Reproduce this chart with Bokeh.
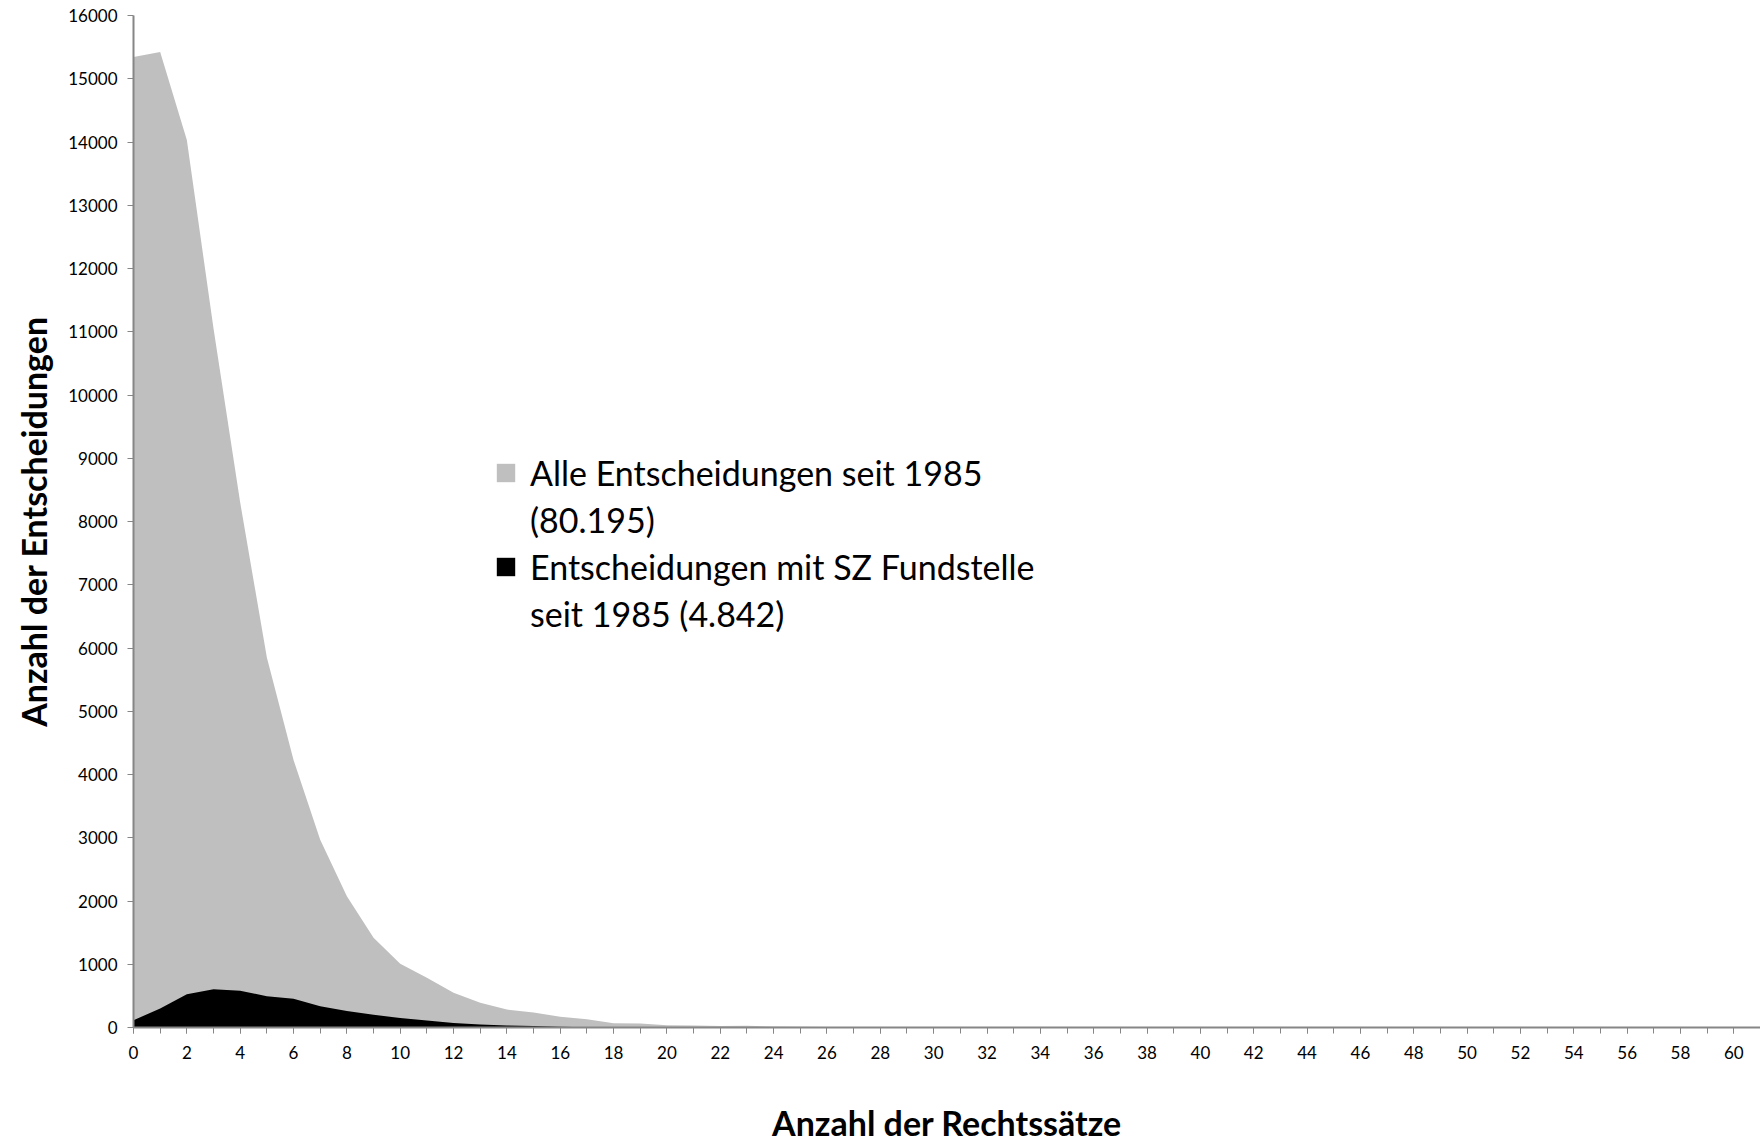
from bokeh.plotting import figure
from bokeh.models import Range1d, SingleIntervalTicker, Legend, LegendItem, ColumnDataSource
from bokeh.embed import file_html
from bokeh.resources import INLINE

# Number of legal principles (Rechtssätze) per decision
rechtssaetze = list(range(0, 61))

# All decisions since 1985
alle = [15345, 15423, 14033, 11050, 8300, 5850, 4230, 2970, 2075, 1417,
        1007, 787, 551, 393, 283, 236, 168, 132, 66, 63,
        37, 30, 25, 28, 15, 10, 8, 6, 5, 4,
        3, 3, 2, 2, 2, 1, 1, 1, 1, 1,
        1, 0, 0, 0, 0, 0, 0, 0, 0, 0,
        0, 0, 0, 0, 0, 0, 0, 0, 0, 0, 0]

# Decisions with SZ citation since 1985
sz = [115, 300, 525, 605, 582, 495, 455, 335, 262, 200,
      150, 110, 72, 48, 31, 24, 10, 5, 3, 2,
      1, 1, 0, 0, 0, 0, 0, 0, 0, 0,
      0, 0, 0, 0, 0, 0, 0, 0, 0, 0,
      0, 0, 0, 0, 0, 0, 0, 0, 0, 0,
      0, 0, 0, 0, 0, 0, 0, 0, 0, 0, 0]

label_alle = ["Alle Entscheidungen seit 1985", "(80.195)"]
label_sz = ["Entscheidungen mit SZ Fundstelle", "seit 1985 (4.842)"]

src = ColumnDataSource(dict(x=rechtssaetze, alle=alle, sz=sz, zero=[0] * len(rechtssaetze)))

FONT = "Lato"
AXIS_COLOR = "#868686"

p = figure(width=1760, height=1145, output_backend="svg", toolbar_location=None,
           x_range=Range1d(0, 61), y_range=Range1d(0, 16000),
           min_border_left=133, min_border_right=0, min_border_top=15, min_border_bottom=113)
p.outline_line_color = None
p.xgrid.visible = False
p.ygrid.visible = False

r_alle = p.varea(x="x", y1="zero", y2="alle", source=src, fill_color="#BFBFBF")
r_sz = p.varea(x="x", y1="zero", y2="sz", source=src, fill_color="#000000")
# invisible renderer used for the continuation lines of the legend labels
r_blank = p.varea(x="x", y1="zero", y2="zero", source=src, fill_alpha=0)

p.xaxis.ticker = SingleIntervalTicker(interval=2, num_minor_ticks=2)
p.xaxis.axis_label = "Anzahl der Rechtssätze"
p.yaxis.ticker = SingleIntervalTicker(interval=1000, num_minor_ticks=0)
p.yaxis.axis_label = "Anzahl der Entscheidungen"
for ax in (p.xaxis[0], p.yaxis[0]):
    ax.axis_line_color = AXIS_COLOR
    ax.axis_line_width = 2
    ax.major_tick_line_color = AXIS_COLOR
    ax.minor_tick_line_color = AXIS_COLOR
    ax.major_tick_line_width = 1
    ax.minor_tick_line_width = 1
    ax.major_tick_in = 0
    ax.minor_tick_in = 0
    ax.major_tick_out = 6
    ax.minor_tick_out = 6
    ax.major_label_text_font = FONT
    ax.major_label_text_font_size = "17px"
    ax.major_label_text_color = "#000000"
    ax.axis_label_text_font = FONT
    ax.axis_label_text_font_style = "bold"
    ax.axis_label_text_font_size = "34px"
    ax.axis_label_text_color = "#000000"
p.yaxis.major_label_standoff = 10
p.xaxis.major_label_standoff = 12
p.yaxis.axis_label_standoff = 11
p.xaxis.axis_label_standoff = 40

legend = Legend(items=[LegendItem(label=label_alle[0], renderers=[r_alle]),
                       LegendItem(label=label_alle[1], renderers=[r_blank]),
                       LegendItem(label=label_sz[0], renderers=[r_sz]),
                       LegendItem(label=label_sz[1], renderers=[r_blank])],
                location=(361, 393), orientation="vertical",
                label_text_font=FONT, label_text_font_size="34px",
                label_text_color="#000000",
                glyph_width=23, glyph_height=23, label_standoff=13,
                spacing=6, padding=0, margin=0,
                border_line_alpha=0, background_fill_alpha=0)
p.add_layout(legend, "center")

open("out.html", "w").write(file_html(p, INLINE))
